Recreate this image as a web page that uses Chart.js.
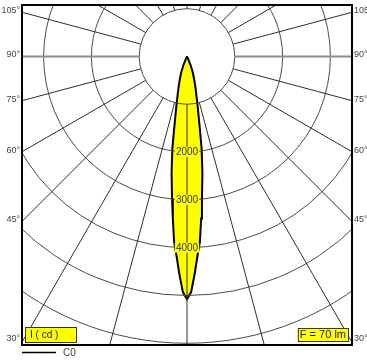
<!DOCTYPE html>
<html>
<head>
<meta charset="utf-8">
<script src="https://cdn.jsdelivr.net/npm/chart.js@4.4.1/dist/chart.umd.min.js"></script>
<style>
  html, body { margin: 0; padding: 0; background: #fff; }
  canvas { display: block; }
</style>
</head>
<body>
<canvas id="ldc" width="367" height="360"></canvas>
<script>
// C0 plane, gamma measured from nadir (deg) and luminous intensity (cd)
const gammaDeg    = [0, 1, 2, 3, 4, 5, 6, 7.5, 9, 10, 12.5, 15, 17.5, 20, 22.5, 25, 27.5];
const intensityCd = [5080, 4930, 4560, 4180, 3880, 3400, 2990, 2470, 1960, 1560, 1000, 700, 500, 350, 200, 60, 0];

// polar grid
const ringCd      = [1000, 2000, 3000, 4000, 5000, 6000, 7000];
const ringLabelCd = [2000, 3000, 4000];
const spokeDeg    = [0, 15, 30, 45, 60, 75, 90, 105, 120, 135, 150, 165, 180, 195, 210, 225, 240, 255, 270, 285, 300, 315, 330, 345];
const sideTickDeg = [105, 90, 75, 60, 45, 30];

const unitText  = 'I ( cd )';
const fluxText  = 'F = 70 lm';
const planeName = 'C0';

const YELLOW = '#ffff00';
const FONT = '"Liberation Sans", Arial, sans-serif';

// closed outline: C180 half (mirrored) then C0 half
const rad = d => d * Math.PI / 180;
const curve = [];
for (let i = gammaDeg.length - 1; i >= 0; i--) {
  curve.push({ x: -intensityCd[i] * Math.sin(rad(gammaDeg[i])), y: -intensityCd[i] * Math.cos(rad(gammaDeg[i])) });
}
for (let i = 1; i < gammaDeg.length; i++) {
  curve.push({ x: intensityCd[i] * Math.sin(rad(gammaDeg[i])), y: -intensityCd[i] * Math.cos(rad(gammaDeg[i])) });
}

const polarGrid = {
  id: 'polarGrid',
  afterDatasetsDraw(chart) {
    const { ctx, chartArea: a, scales: { x, y } } = chart;
    const cx = x.getPixelForValue(0), cy = y.getPixelForValue(0);
    const px = v => x.getPixelForValue(v) - cx;

    ctx.save();
    ctx.beginPath();
    ctx.rect(a.left, a.top, a.right - a.left, a.bottom - a.top);
    ctx.clip();

    // rings
    ctx.strokeStyle = '#4a4a4a';
    ctx.lineWidth = 1;
    ringCd.forEach(c => {
      ctx.beginPath();
      ctx.arc(cx, cy, px(c), 0, Math.PI * 2);
      ctx.stroke();
    });

    // spokes, starting at the first ring
    const r0 = px(ringCd[0]), r1 = px(20000);
    spokeDeg.forEach(g => {
      const s = Math.sin(rad(g)), c = Math.cos(rad(g));
      const horiz = g === 90 || g === 270;
      ctx.strokeStyle = horiz ? '#8c8c8c' : '#2e2e2e';
      ctx.lineWidth = horiz ? 2 : 1;
      ctx.beginPath();
      ctx.moveTo(cx + r0 * s, cy + r0 * c);
      ctx.lineTo(cx + r1 * s, cy + r1 * c);
      ctx.stroke();
    });
    ctx.restore();

    // intensity labels on the nadir axis
    ctx.save();
    ctx.font = '10px ' + FONT;
    ctx.textAlign = 'center';
    ctx.textBaseline = 'middle';
    ringLabelCd.forEach(c => {
      const ty = y.getPixelForValue(-c);
      const w = ctx.measureText(String(c)).width;
      ctx.fillStyle = YELLOW;
      ctx.fillRect(cx - w / 2 - 1, ty - 5, w + 2, 10);
      ctx.fillStyle = '#333';
      ctx.fillText(String(c), cx, ty + 0.5);
    });
    ctx.restore();
  },
  afterDraw(chart) {
    const { ctx, chartArea: a, scales: { x, y } } = chart;
    const cx = x.getPixelForValue(0), cy = y.getPixelForValue(0);

    // frame
    ctx.save();
    ctx.strokeStyle = '#000';
    ctx.lineWidth = 2;
    ctx.strokeRect(a.left, a.top, a.right - a.left, a.bottom - a.top);

    // angle ticks where the spokes meet the side edges
    ctx.font = '9px ' + FONT;
    ctx.fillStyle = '#444';
    ctx.textBaseline = 'middle';
    const half = cx - a.left;
    sideTickDeg.forEach(g => {
      let ty = cy + half / Math.tan(rad(g)) - 1.5;
      ty = Math.min(ty, a.bottom - 6);
      ctx.textAlign = 'right';
      ctx.fillText(g + '°', a.left - 2, ty);
      ctx.textAlign = 'left';
      ctx.fillText(g + '°', a.right + 2, ty);
    });

    // unit box
    ctx.fillStyle = YELLOW;
    ctx.strokeStyle = '#333';
    ctx.lineWidth = 1;
    ctx.fillRect(a.left + 3, a.bottom - 18, 51, 15);
    ctx.strokeRect(a.left + 3.5, a.bottom - 17.5, 51, 15);
    ctx.fillStyle = '#222';
    ctx.font = '10px ' + FONT;
    ctx.textAlign = 'left';
    ctx.fillText(unitText, a.left + 8, a.bottom - 10);

    // flux box
    ctx.font = '11px ' + FONT;
    const fw = ctx.measureText(fluxText).width + 4;
    ctx.fillStyle = YELLOW;
    ctx.fillRect(a.right - 4 - fw, a.bottom - 17, fw, 13);
    ctx.strokeRect(a.right - 4 - fw + 0.5, a.bottom - 16.5, fw, 13);
    ctx.fillStyle = '#222';
    ctx.fillText(fluxText, a.right - 2 - fw, a.bottom - 10);

    // plane legend
    ctx.strokeStyle = '#000';
    ctx.lineWidth = 1.5;
    ctx.beginPath();
    ctx.moveTo(a.left, a.bottom + 7.5);
    ctx.lineTo(a.left + 34, a.bottom + 7.5);
    ctx.stroke();
    ctx.font = '10px ' + FONT;
    ctx.fillStyle = '#444';
    ctx.fillText(planeName, a.left + 41, a.bottom + 8);
    ctx.restore();
  }
};

new Chart(document.getElementById('ldc').getContext('2d'), {
  type: 'scatter',
  data: {
    datasets: [{
      label: planeName,
      data: curve,
      showLine: true,
      fill: 'shape',
      backgroundColor: YELLOW,
      borderColor: '#000',
      borderWidth: 2,
      pointRadius: 0,
      tension: 0
    }]
  },
  options: {
    responsive: false,
    animation: false,
    devicePixelRatio: 1,
    layout: { padding: { left: 22, top: 5, right: 15, bottom: 15 } },
    plugins: { legend: { display: false }, tooltip: { enabled: false } },
    scales: {
      x: { type: 'linear', min: -3452, max: 3452, display: false },
      y: { type: 'linear', min: -6036, max: 1077, display: false }
    }
  },
  plugins: [polarGrid]
});
</script>
</body>
</html>
